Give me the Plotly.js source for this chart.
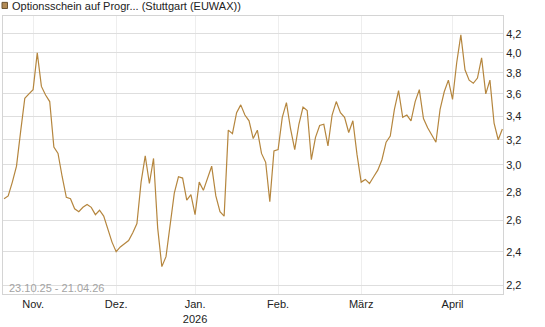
<!DOCTYPE html>
<html>
<head>
<meta charset="utf-8">
<script src="https://cdn.plot.ly/plotly-3.0.1.min.js"></script>
<style>
  html, body { margin: 0; padding: 0; background: #fff; }
  #chart { width: 545px; height: 327px; }
</style>
</head>
<body>
<div id="chart"></div>
<script>
const seriesName = "Optionsschein auf Progr... (Stuttgart (EUWAX))";
const rangeLabel = "23.10.25 - 21.04.26";

const dates = [
  "2025-10-23","2025-10-24","2025-10-27","2025-10-28","2025-10-29","2025-10-30","2025-10-31",
  "2025-11-03","2025-11-04","2025-11-05","2025-11-06","2025-11-07","2025-11-10","2025-11-11","2025-11-12","2025-11-13","2025-11-14",
  "2025-11-17","2025-11-18","2025-11-19","2025-11-20","2025-11-21","2025-11-24","2025-11-25","2025-11-26","2025-11-27","2025-11-28",
  "2025-12-01","2025-12-02","2025-12-03","2025-12-04","2025-12-05","2025-12-08","2025-12-09","2025-12-10","2025-12-11","2025-12-12",
  "2025-12-15","2025-12-16","2025-12-17","2025-12-18","2025-12-19","2025-12-22","2025-12-23","2025-12-29","2025-12-30",
  "2026-01-05","2026-01-06","2026-01-07","2026-01-08","2026-01-09","2026-01-12","2026-01-13","2026-01-14","2026-01-15","2026-01-16",
  "2026-01-19","2026-01-20","2026-01-21","2026-01-22","2026-01-23","2026-01-26","2026-01-27","2026-01-28","2026-01-29","2026-01-30",
  "2026-02-02","2026-02-03","2026-02-04","2026-02-05","2026-02-06","2026-02-09","2026-02-10","2026-02-11","2026-02-12","2026-02-13",
  "2026-02-16","2026-02-17","2026-02-18","2026-02-19","2026-02-20","2026-02-23","2026-02-24","2026-02-25","2026-02-26","2026-02-27",
  "2026-03-02","2026-03-03","2026-03-04","2026-03-05","2026-03-06","2026-03-09","2026-03-10","2026-03-11","2026-03-12","2026-03-13",
  "2026-03-16","2026-03-17","2026-03-18","2026-03-19","2026-03-20","2026-03-23","2026-03-24","2026-03-25","2026-03-26","2026-03-27",
  "2026-03-30","2026-03-31",
  "2026-04-01","2026-04-02","2026-04-07","2026-04-08","2026-04-09","2026-04-10","2026-04-13","2026-04-14","2026-04-15","2026-04-16",
  "2026-04-17","2026-04-20","2026-04-21"
];

const values = [
  2.75,2.77,2.87,2.99,3.27,3.56,3.60,
  3.64,4.00,3.67,3.59,3.53,3.14,3.09,2.91,2.76,2.75,
  2.68,2.66,2.69,2.71,2.69,2.64,2.67,2.63,2.55,2.46,
  2.40,2.43,2.45,2.47,2.52,2.58,2.87,3.07,2.86,3.05,
  2.55,2.31,2.37,2.59,2.79,2.91,2.90,2.74,2.78,
  2.64,2.87,2.81,2.90,2.99,2.77,2.66,2.63,3.28,3.25,
  3.43,3.50,3.41,3.36,3.21,3.28,3.09,3.02,2.73,3.11,
  3.12,3.39,3.52,3.29,3.12,3.33,3.48,3.45,3.04,3.22,
  3.32,3.33,3.15,3.41,3.53,3.43,3.39,3.26,3.36,3.08,
  2.87,2.89,2.86,2.91,2.96,3.04,3.18,3.23,3.46,3.63,
  3.39,3.41,3.36,3.53,3.64,3.38,3.30,3.24,3.18,3.46,
  3.62,3.73,
  3.55,3.90,4.19,3.83,3.73,3.70,3.75,3.95,3.60,3.73,
  3.34,3.20,3.29
];

const monthLabels = ["Nov.", "Dez.", "Jan.<br>2026", "Feb.", "März", "April"];
const yTicks = [2.2, 2.4, 2.6, 2.8, 3.0, 3.2, 3.4, 3.6, 3.8, 4.0, 4.2];

// first trading day of each new month -> x ticks
const monthStarts = [];
for (let i = 1; i < dates.length; i++) {
  if (dates[i].slice(0, 7) !== dates[i - 1].slice(0, 7)) monthStarts.push(dates[i]);
}

const lineColor = "#b5863e";
const font = { family: "Liberation Sans, Arial, sans-serif", size: 11, color: "#333" };

const trace = {
  x: dates,
  y: values,
  type: "scatter",
  mode: "lines",
  name: seriesName,
  line: { color: lineColor, width: 1.2 },
  hoverinfo: "skip"
};

const layout = {
  width: 545,
  height: 327,
  margin: { l: 3, r: 42, t: 16, b: 33 },
  paper_bgcolor: "#fff",
  plot_bgcolor: "#fff",
  separators: ",.",
  showlegend: false,
  font: font,
  xaxis: {
    type: "category",
    range: [-0.25, dates.length - 1 + 0.15],
    tickmode: "array",
    tickvals: monthStarts,
    ticktext: monthLabels,
    showgrid: true,
    gridcolor: "#eeeeee",
    gridwidth: 1,
    showline: true,
    linecolor: "#d4d4d4",
    linewidth: 1,
    mirror: true,
    ticks: "",
    zeroline: false,
    tickfont: { family: font.family, size: 11, color: "#222" },
    fixedrange: true
  },
  yaxis: {
    type: "log",
    side: "right",
    range: [Math.log10(2.153), Math.log10(4.398)],
    tickmode: "array",
    tickvals: yTicks,
    tickformat: ".1f",
    showgrid: true,
    gridcolor: "#dedede",
    gridwidth: 1,
    showline: true,
    linecolor: "#d4d4d4",
    linewidth: 1,
    mirror: true,
    ticks: "",
    zeroline: false,
    tickfont: { family: font.family, size: 11, color: "#222" },
    fixedrange: true
  },
  shapes: [
    {
      type: "rect", xref: "paper", yref: "paper",
      x0: -0.002, x1: 0.009, y0: 1.027, y1: 1.049,
      fillcolor: "#b38b55", line: { color: "#6b5535", width: 1 }
    }
  ],
  annotations: [
    {
      text: seriesName, xref: "paper", yref: "paper",
      x: 0.014, y: 1.037, xanchor: "left", yanchor: "middle",
      showarrow: false, font: { family: font.family, size: 11, color: "#222" }
    },
    {
      text: rangeLabel, xref: "paper", yref: "paper",
      x: 0.008, y: 0.022, xanchor: "left", yanchor: "middle",
      showarrow: false, font: { family: font.family, size: 11, color: "#a3a3a3" }
    }
  ]
};

Plotly.newPlot("chart", [trace], layout, { displayModeBar: false, staticPlot: true });
</script>
</body>
</html>
